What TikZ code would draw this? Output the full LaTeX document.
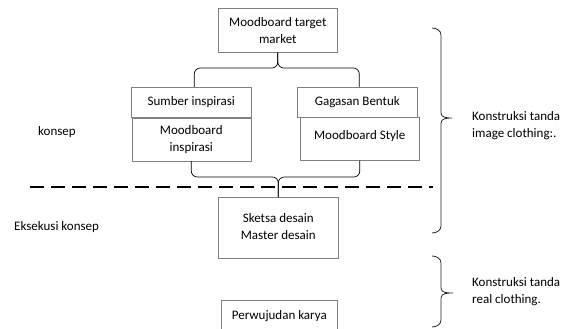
\documentclass[tikz,border=0pt]{standalone}
\usepackage{fontspec}
\setmainfont{Carlito}
\newcommand{\twol}[2]{\begin{tabular}{@{}c@{}}#1\\#2\end{tabular}}
\begin{document}
\begin{tikzpicture}[x=1pt,y=-1pt,
  box/.style={draw=black!50,line width=0.6pt,minimum width=#1,inner sep=0pt,align=center,anchor=north west,font=\fontsize{13}{17}\selectfont},
  lbl/.style={anchor=west,align=left,inner sep=0pt,font=\fontsize{13}{17}\selectfont},
  con/.style={draw=black,line width=0.7pt,rounded corners=6pt},
  brc/.style={draw=black!85,line width=0.8pt}]
\useasboundingbox (0,0) rectangle (565,329);
% boxes
\node[box=119pt,minimum height=44pt] (top) at (218,8) {Moodboard target\\market};
\node[box=120pt,minimum height=30pt] (si) at (131,87) {Sumber inspirasi};
\node[box=120pt,minimum height=30pt] (gb) at (297,87) {Gagasan Bentuk};
\node[box=119pt,minimum height=43pt,anchor=north] (mi) at (si.south) {\raisebox{-1pt}{\twol{Moodboard}{inspirasi}}};
\node[box=119pt,minimum height=43pt] (ms) at (300,117) {\raisebox{7pt}{Moodboard Style}};
\node[box=120pt,minimum height=61pt] (sk) at (218,197) {\raisebox{11pt}{\twol{Sketsa desain}{Master desain}}};
\node[box=116pt,minimum height=32pt] (pk) at (221,300) {Perwujudan karya};
% labels
\node[lbl] (kon) at (38,132) {konsep};
\node[lbl] (eks) at (14,227) {Eksekusi konsep};
\node[lbl] (k1) at (472,126) {Konstruksi tanda\\image clothing:.};
\node[lbl] (k2) at (472,292) {Konstruksi tanda\\real clothing.};
% upper brace connector
\coordinate (cu) at (top.south |- 0,68);
\draw[con] (top.south) -- (cu) -- ([xshift=3pt]cu -| si.north) -- ([xshift=3pt]si.north);
\draw[con] (top.south) -- (cu) -- ([xshift=2pt]cu -| gb.north) -- ([xshift=2pt]gb.north);
% lower brace connector
\coordinate (cl) at (sk.north |- 0,177);
\draw[con] (mi.south) -- (mi.south |- cl) -- (cl) -- (sk.north);
\draw[con] (ms.south) -- (ms.south |- cl) -- (cl) -- (sk.north);
% dashed separator
\draw[line width=1.6pt,dash pattern=on 14pt off 7pt] (30,187) -- (433,187);
% right braces
\draw[brc] (432,28) to[out=0,in=90] (441,35) -- (441,113) to[out=-90,in=180] (452,118) to[out=180,in=90] (441,123) -- (441,226) to[out=-90,in=0] (432,233);
\draw[brc] (432,256) to[out=0,in=90] (441,263) -- (441,288) to[out=-90,in=180] (453,293) to[out=180,in=90] (441,298) -- (441,320) to[out=-90,in=0] (432,327);
\end{tikzpicture}
\end{document}
